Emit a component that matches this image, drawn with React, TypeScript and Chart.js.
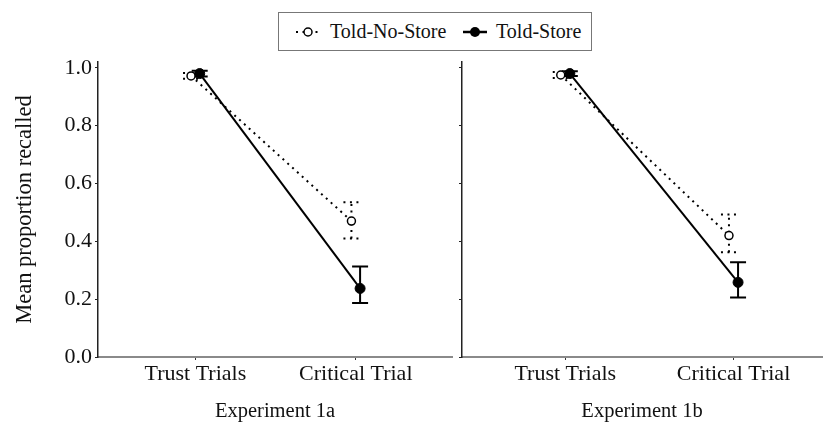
import React, { useEffect, useRef } from "react";
import { Chart, registerables } from "chart.js";

Chart.register(...registerables);

const CATEGORIES = ["Trust Trials", "Critical Trial"];
const SERIES = ["Told-No-Store", "Told-Store"];
const Y_TICKS = [0, 0.2, 0.4, 0.6, 0.8, 1.0];

const EXP1A_NOSTORE = [0.972, 0.47];
const EXP1A_NOSTORE_LO = [0.962, 0.41];
const EXP1A_NOSTORE_HI = [0.982, 0.535];
const EXP1A_STORE = [0.98, 0.237];
const EXP1A_STORE_LO = [0.97, 0.187];
const EXP1A_STORE_HI = [0.99, 0.313];

const EXP1B_NOSTORE = [0.975, 0.42];
const EXP1B_NOSTORE_LO = [0.965, 0.362];
const EXP1B_NOSTORE_HI = [0.985, 0.493];
const EXP1B_STORE = [0.98, 0.258];
const EXP1B_STORE_LO = [0.972, 0.206];
const EXP1B_STORE_HI = [0.988, 0.328];

const FONT = '"Liberation Serif", "Times New Roman", serif';
const DOT_DASH = [2, 4.5];
const DODGE = 0.027;

const errPlugin = {
  id: "errbars",
  beforeDatasetsDraw(chart: any) {
    const ctx = chart.ctx;
    const ys = chart.scales.y;
    chart.data.datasets.forEach((ds: any, i: number) => {
      const meta = chart.getDatasetMeta(i);
      ds.errLow.forEach((lo: number, j: number) => {
        const hi = ds.errHigh[j];
        const pt = meta.data[j];
        const x = pt.x;
        const yl = ys.getPixelForValue(lo);
        const yh = ys.getPixelForValue(hi);
        ctx.save();
        ctx.strokeStyle = "#000";
        ctx.lineWidth = 2;
        ctx.setLineDash(ds.errDash);
        ctx.beginPath();
        ctx.moveTo(x, yl);
        ctx.lineTo(x, yh);
        ctx.moveTo(x - 8, yl);
        ctx.lineTo(x + 8, yl);
        ctx.moveTo(x - 8, yh);
        ctx.lineTo(x + 8, yh);
        ctx.stroke();
        ctx.restore();
      });
    });
  },
};

type PanelProps = {
  left: number;
  width: number;
  yAxisWidth: number;
  showYLabels: boolean;
  xMin: number;
  xMax: number;
  title: string;
  noStore: number[];
  noStoreLo: number[];
  noStoreHi: number[];
  store: number[];
  storeLo: number[];
  storeHi: number[];
};

function Panel(p: PanelProps) {
  const ref = useRef<HTMLCanvasElement>(null);
  useEffect(() => {
    const chart = new Chart(ref.current as HTMLCanvasElement, {
      type: "line",
      data: {
        datasets: [
          {
            label: SERIES[0],
            data: p.noStore.map((v, i) => ({ x: i + 1 - DODGE, y: v })),
            borderColor: "#000",
            borderWidth: 2,
            borderDash: DOT_DASH,
            pointRadius: 4,
            pointBorderWidth: 1.5,
            pointBackgroundColor: "#fff",
            pointBorderColor: "#000",
            errLow: p.noStoreLo,
            errHigh: p.noStoreHi,
            errDash: DOT_DASH,
          } as any,
          {
            label: SERIES[1],
            data: p.store.map((v, i) => ({ x: i + 1 + DODGE, y: v })),
            borderColor: "#000",
            borderWidth: 2,
            pointRadius: 5,
            pointBorderWidth: 1,
            pointBackgroundColor: "#000",
            pointBorderColor: "#000",
            errLow: p.storeLo,
            errHigh: p.storeHi,
            errDash: [],
          } as any,
        ],
      },
      options: {
        responsive: false,
        animation: false,
        layout: { padding: { top: 62, right: 0, bottom: 0, left: 0 } },
        plugins: { legend: { display: false }, tooltip: { enabled: false } },
        scales: {
          x: {
            type: "linear",
            min: p.xMin,
            max: p.xMax,
            afterBuildTicks: (s: any) => {
              s.ticks = CATEGORIES.map((_, i) => ({ value: i + 1 }));
            },
            afterFit: (s: any) => {
              s.height = 76;
            },
            ticks: {
              callback: (v: any) => CATEGORIES[Math.round(v) - 1] ?? "",
              font: { family: FONT, size: 22 },
              color: "#111",
              padding: 1,
              maxRotation: 0,
              autoSkip: false,
            },
            grid: {
              display: true,
              drawOnChartArea: false,
              drawTicks: true,
              tickLength: 3,
              color: "#333",
            },
            border: { display: true, color: "#8a8a8a", width: 2 },
            title: {
              display: true,
              text: p.title,
              font: { family: FONT, size: 20.5 },
              color: "#111",
              padding: { top: 0, bottom: 9 },
            },
          },
          y: {
            type: "linear",
            min: 0,
            max: 1.02,
            afterBuildTicks: (s: any) => {
              s.ticks = Y_TICKS.map((v) => ({ value: v }));
            },
            afterFit: (s: any) => {
              s.width = p.yAxisWidth;
            },
            ticks: {
              display: p.showYLabels,
              callback: (v: any) => Number(v).toFixed(1),
              font: { family: FONT, size: 22 },
              color: "#111",
              padding: 3,
            },
            grid: {
              display: true,
              drawOnChartArea: false,
              drawTicks: true,
              tickLength: 3,
              color: "#222",
            },
            border: { display: true, color: "#222", width: 1.5 },
            title: {
              display: p.showYLabels,
              text: "Mean proportion recalled",
              font: { family: FONT, size: 22.5 },
              color: "#111",
              padding: { top: 12, bottom: 0 },
            },
          },
        },
      },
      plugins: [errPlugin],
    } as any);
    return () => chart.destroy();
  }, []);
  return (
    <canvas
      ref={ref}
      width={p.width}
      height={433}
      style={{ position: "absolute", left: p.left, top: 0, width: p.width, height: 433 }}
    />
  );
}

function Legend() {
  const text: React.CSSProperties = {
    position: "absolute",
    top: 7,
    fontFamily: FONT,
    fontSize: 20,
    color: "#111",
    lineHeight: "23px",
    whiteSpace: "nowrap",
  };
  return (
    <div
      style={{
        position: "absolute",
        left: 278,
        top: 12,
        width: 312,
        height: 37,
        border: "1.5px solid #777",
        background: "#fff",
      }}
    >
      <svg width={312} height={37} style={{ position: "absolute", left: 0, top: 0 }}>
        <line x1={17} y1={19} x2={41} y2={19} stroke="#000" strokeWidth={2} strokeDasharray="2 4.5" />
        <circle cx={29} cy={19} r={4} fill="#fff" stroke="#000" strokeWidth={1.5} />
        <line x1={184} y1={19} x2={208} y2={19} stroke="#000" strokeWidth={2.5} />
        <circle cx={196} cy={19} r={5} fill="#000" />
      </svg>
      <span style={{ ...text, left: 51 }}>{SERIES[0]}</span>
      <span style={{ ...text, left: 217 }}>{SERIES[1]}</span>
    </div>
  );
}

export default function App() {
  useEffect(() => {
    document.body.style.margin = "0";
  }, []);
  return (
    <div style={{ position: "relative", width: 828, height: 433, background: "#fff" }}>
      <Panel
        left={0}
        width={458}
        yAxisWidth={98}
        showYLabels={true}
        xMin={0.393}
        xMax={2.6}
        title="Experiment 1a"
        noStore={EXP1A_NOSTORE}
        noStoreLo={EXP1A_NOSTORE_LO}
        noStoreHi={EXP1A_NOSTORE_HI}
        store={EXP1A_STORE}
        storeLo={EXP1A_STORE_LO}
        storeHi={EXP1A_STORE_HI}
      />
      <Panel
        left={452}
        width={376}
        yAxisWidth={10}
        showYLabels={false}
        xMin={0.386}
        xMax={2.526}
        title="Experiment 1b"
        noStore={EXP1B_NOSTORE}
        noStoreLo={EXP1B_NOSTORE_LO}
        noStoreHi={EXP1B_NOSTORE_HI}
        store={EXP1B_STORE}
        storeLo={EXP1B_STORE_LO}
        storeHi={EXP1B_STORE_HI}
      />
      <Legend />
    </div>
  );
}
